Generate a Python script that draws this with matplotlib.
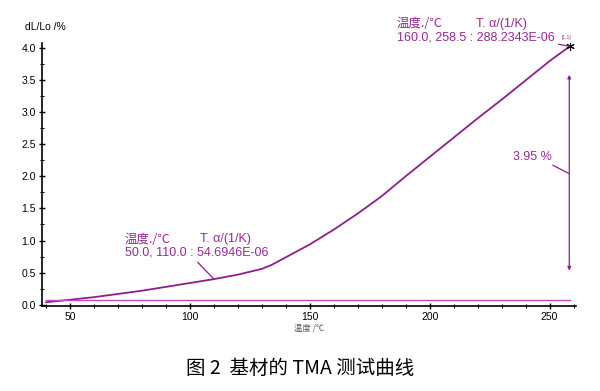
import numpy as np
import matplotlib.pyplot as plt
from matplotlib.ticker import MultipleLocator

plt.rcParams['font.family'] = ['Liberation Sans', 'Noto Sans CJK SC', 'DejaVu Sans']

# curve
temp = [40, 50, 60, 70, 80, 90, 100, 110, 120, 130, 134, 140, 150, 160, 170,
        180, 190, 200, 210, 220, 230, 240, 250, 258.5]
dl = [0.04, 0.08, 0.12, 0.17, 0.22, 0.28, 0.34, 0.40, 0.47, 0.56, 0.62, 0.74,
      0.94, 1.17, 1.42, 1.69, 2.00, 2.30, 2.60, 2.90, 3.19, 3.49, 3.79, 4.02]
base_x = [40, 258.5]
base_y = [0.07, 0.07]

purple = '#8c1f8c'
text_purple = '#962896'

fig = plt.figure(figsize=(6, 3.91), dpi=100)
ax = fig.add_axes([0.07, 0.217, 0.89, 0.673])

ax.plot(temp, dl, color=purple, lw=1.3)
ax.plot(base_x, base_y, color='#c24ac2', lw=1.0)
ax.plot([258.5], [4.02], marker=(6, 2, 0), color='black', ms=6, mew=0.8)

ax.set_xlim(38.3, 261)
ax.set_ylim(-0.02, 4.07)
ax.xaxis.set_major_locator(MultipleLocator(50))
ax.xaxis.set_minor_locator(MultipleLocator(10))
ax.yaxis.set_major_locator(MultipleLocator(0.5))
ax.yaxis.set_minor_locator(MultipleLocator(0.25))
ax.yaxis.set_major_formatter(plt.FormatStrFormatter('%.1f'))
for s in ['top', 'right']:
    ax.spines[s].set_visible(False)
for s in ['left', 'bottom']:
    ax.spines[s].set_linewidth(1.2)
ax.tick_params(which='major', direction='inout', length=5, width=1, labelsize=7.5, pad=2)
ax.tick_params(which='minor', direction='inout', length=3, width=0.8)

ax.set_xlabel('温度 /℃', fontsize=6, color='#555555', labelpad=1,
              family=['Noto Sans CJK SC', 'DejaVu Sans'])
fig.text(25 / 600, 1 - 27 / 391, 'dL/Lo /%', fontsize=7.5, va='center', ha='left')

# annotations
ax.annotate('', xy=(258.2, 3.62), xytext=(258.2, 0.49),
            arrowprops=dict(arrowstyle='<|-|>', color=purple, lw=0.9,
                            mutation_scale=5))
ax.text(250.8, 2.30, '3.95 %', color=text_purple, fontsize=9, ha='right', va='center')
ax.plot([251.4, 258.1], [2.17, 2.04], color=purple, lw=0.9)

txt = dict(color=text_purple, fontsize=9, va='center', ha='left', clip_on=False)
cjk = ['Noto Sans CJK SC', 'DejaVu Sans']
ax.text(186.3, 4.37, '温度./℃', family=cjk, **txt)
ax.text(219.5, 4.37, 'T. α/(1/K)', **txt)
ax.text(186.3, 4.15, '160.0, 258.5 : 288.2343E-06', **txt)
ax.text(255.0, 4.16, '[1,1]', color=text_purple, fontsize=3.5, ha='left', va='center')
ax.plot([253.8, 258.3], [4.05, 4.02], color=purple, lw=0.9, clip_on=False)

ax.text(72.9, 1.02, '温度./℃', family=cjk, **txt)
ax.text(104.2, 1.02, 'T. α/(1/K)', **txt)
ax.text(72.9, 0.81, '50.0, 110.0 : 54.6946E-06', **txt)
ax.plot([103.3, 110.0], [0.66, 0.40], color=purple, lw=0.9)

fig.text(0.5, 1 - 368 / 391, '图 2  基材的 TMA 测试曲线', fontsize=14, ha='center', va='center',
         family=['Noto Sans CJK SC', 'DejaVu Sans'])

fig.savefig('out.png', dpi=100)
